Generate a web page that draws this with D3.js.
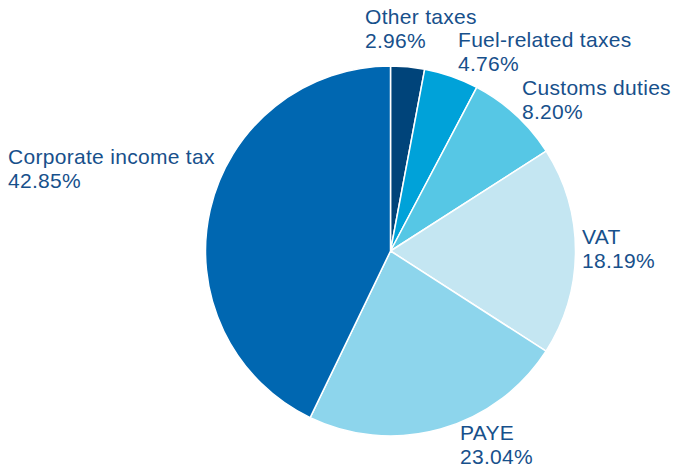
<!DOCTYPE html>
<html>
<head>
<meta charset="utf-8">
<script src="https://cdn.jsdelivr.net/npm/d3@7"></script>
<style>
  html, body { margin: 0; padding: 0; background: #ffffff; }
  svg { display: block; }
  text { font-family: "Liberation Sans", Arial, Helvetica, sans-serif; }
</style>
</head>
<body>
<script>
// Tax revenue composition (share of total, %)
const categories = ["Other taxes", "Fuel-related taxes", "Customs duties", "VAT", "PAYE", "Corporate income tax"];
const shares = [2.96, 4.76, 8.20, 18.19, 23.04, 42.85];
const shareLabels = ["2.96%", "4.76%", "8.20%", "18.19%", "23.04%", "42.85%"];
const colors = ["#00447a", "#00a2d9", "#56c7e5", "#c4e6f2", "#8dd5ec", "#0067b1"];

const width = 673, height = 468;
const cx = 390.5, cy = 251, radius = 185;

// Label anchor points (left edge, first baseline) for each slice
const labelAnchors = [
  [365, 24], [458, 47], [522, 95], [582, 244], [460, 440], [8, 164]
];
const lineGap = 24;

const svg = d3.select("body").append("svg")
  .attr("width", width)
  .attr("height", height);

const data = categories.map((c, i) => ({ name: c, value: shares[i], label: shareLabels[i], color: colors[i] }));

const pie = d3.pie()
  .value(d => d.value)
  .sort(null)
  .startAngle(0)
  .endAngle(2 * Math.PI);

const arc = d3.arc()
  .innerRadius(0)
  .outerRadius(radius);

const g = svg.append("g").attr("transform", `translate(${cx},${cy})`);

g.selectAll("path")
  .data(pie(data))
  .join("path")
  .attr("d", arc)
  .attr("fill", d => d.data.color)
  .attr("stroke", "#ffffff")
  .attr("stroke-width", 1.5)
  .attr("stroke-linejoin", "round");

const labels = svg.append("g")
  .selectAll("text")
  .data(data)
  .join("text")
  .attr("x", (d, i) => labelAnchors[i][0])
  .attr("y", (d, i) => labelAnchors[i][1])
  .attr("fill", "#17508b")
  .attr("font-size", 21)
  .style("letter-spacing", "0.3px");

labels.append("tspan")
  .attr("x", (d, i) => labelAnchors[i][0])
  .text(d => d.name);

labels.append("tspan")
  .attr("x", (d, i) => labelAnchors[i][0])
  .attr("dy", lineGap)
  .text(d => d.label);
</script>
</body>
</html>
